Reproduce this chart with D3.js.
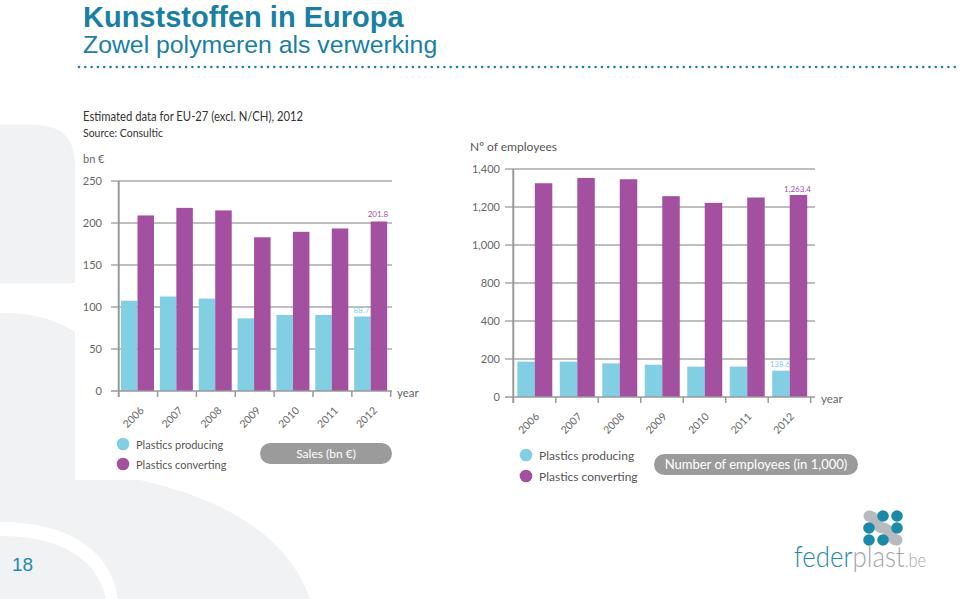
<!DOCTYPE html>
<html><head><meta charset="utf-8">
<script src="https://cdn.jsdelivr.net/npm/d3@7/dist/d3.min.js"></script>
<style>
html,body{margin:0;padding:0;background:#fff;}
svg{display:block;}
</style></head>
<body>
<svg id="c" width="960" height="599"></svg>
<script>
// ---------- data ----------
const years = ["2006","2007","2008","2009","2010","2011","2012"];
const seriesNames = ["Plastics producing","Plastics converting"];
const salesProducing  = [107.5, 112.5, 110, 86.5, 90.5, 90.5, 88.7];
const salesConverting = [209, 218, 215, 183, 189.5, 193.5, 201.8];
const empProducing    = [186, 186, 177, 170, 160, 160, 138.6];
const empConverting   = [1325, 1353, 1346, 1257, 1222, 1250, 1263.4];
const salesTicks = [0, 50, 100, 150, 200, 250];
const empTicks   = [0, 200, 400, 800, 1000, 1200, 1400];

const colors = {producing: "#82cfe3", converting: "#a2509f"};
const teal = "#1a80a3";
const FONT = "Lato, 'Open Sans', sans-serif";

const svg = d3.select("#c");

// ---------- background shapes ----------
const bg = svg.append("g").attr("fill", "#f1f2f4");
bg.append("path").attr("d", "M0,125 L35,125 Q75,125 75,165 L75,283 L0,283 Z");
bg.append("path").attr("d", "M0,313 Q45,312 75,332 L75,470 L0,470 Z");
bg.append("path").attr("d", "M0,470 L75,470 L75,480 L140,480 C230,500 290,540 310,599 L0,599 Z");
svg.append("path").attr("fill", "#fff")
  .attr("d", "M0,522 C70,522 112,552 118,599 L106,599 C98,560 62,536 0,536 Z");

// ---------- header ----------
svg.append("text").attr("x", 83).attr("y", 27)
  .attr("font-family", "'Liberation Sans', Arial, sans-serif").attr("font-weight", "bold")
  .attr("font-size", 29).attr("fill", teal).text("Kunststoffen in Europa");
svg.append("text").attr("x", 83).attr("y", 53)
  .attr("font-family", "'Liberation Sans', Arial, sans-serif")
  .attr("font-size", 24.8).attr("fill", teal).text("Zowel polymeren als verwerking");
svg.append("g").selectAll("circle").data(d3.range(79, 960, 6.3)).join("circle")
  .attr("cx", d => d).attr("cy", 67).attr("r", 1.3).attr("fill", teal);

svg.append("text").attr("x", 12).attr("y", 571)
  .attr("font-family", "'Liberation Sans', Arial, sans-serif")
  .attr("font-size", 19).attr("fill", "#1d8ab0").text("18");

// ---------- generic chart ----------
function drawChart(o) {
  const g = svg.append("g");
  const x = d3.scaleBand().domain(years).range(o.xRange).padding(0);
  const xi = d3.scaleBand().domain(["producing","converting"]).range(o.inner).padding(0);
  const y = o.y;

  // gridlines
  g.append("g").selectAll("line").data(o.ticks.filter(t => t !== 0)).join("line")
    .attr("x1", o.gridX1).attr("x2", o.gridX2)
    .attr("y1", d => y(d)).attr("y2", d => y(d))
    .attr("stroke", "#a9a9a9").attr("stroke-width", 1.5);

  // tick labels
  g.append("g").selectAll("text").data(o.ticks).join("text")
    .attr("x", o.labelX).attr("y", d => y(d) + 4)
    .attr("text-anchor", "end").attr("font-family", FONT)
    .attr("font-size", o.tickFont).attr("fill", "#666")
    .text(d => o.fmt(d));

  // bars
  const data = years.map((yr, i) => ({yr, producing: o.prod[i], converting: o.conv[i]}));
  const grp = g.append("g").selectAll("g").data(data).join("g")
    .attr("transform", d => `translate(${x(d.yr)},0)`);
  ["producing","converting"].forEach(k => {
    grp.append("rect")
      .attr("x", xi(k)).attr("width", xi.bandwidth())
      .attr("y", d => y(d[k])).attr("height", d => y(0) - y(d[k]))
      .attr("fill", colors[k]);
  });

  // axis baseline and y axis line
  g.append("line").attr("x1", o.gridX1).attr("x2", o.gridX2)
    .attr("y1", y(0)).attr("y2", y(0)).attr("stroke", "#999").attr("stroke-width", 1.6);
  g.append("line").attr("x1", o.xRange[0]).attr("x2", o.xRange[0])
    .attr("y1", y(o.ticks[o.ticks.length-1])).attr("y2", y(0) + 6)
    .attr("stroke", "#999").attr("stroke-width", 2);
  // band separators ticks
  g.append("g").selectAll("line").data(years.slice(1).map(v => x(v)).concat([o.xRange[1]])).join("line")
    .attr("x1", d => d).attr("x2", d => d).attr("y1", y(0)).attr("y2", y(0) + 6)
    .attr("stroke", "#999").attr("stroke-width", 1.5);

  // year labels
  g.append("g").selectAll("text").data(years).join("text")
    .attr("transform", d => `translate(${x(d) + x.bandwidth()/2 + o.yrDx},${y(0) + 26}) rotate(-45)`)
    .attr("text-anchor", "middle").attr("dominant-baseline", "central")
    .attr("font-family", FONT).attr("font-size", o.yrFont).attr("fill", "#666")
    .text(d => d);

  g.append("text").attr("x", o.yearX).attr("y", y(0) + 6)
    .attr("font-family", FONT).attr("font-size", o.yrFont + 1).attr("fill", "#666").text("year");

  // value labels on last bars
  const last = data[data.length - 1];
  g.append("text")
    .attr("x", x(last.yr) + xi("converting") + xi.bandwidth()/2 - 1)
    .attr("y", y(last.converting) - o.valOff[1])
    .attr("text-anchor", "middle").attr("font-family", FONT).attr("font-size", 8)
    .attr("fill", colors.converting).text(o.valFmt(last.converting));
  g.append("text")
    .attr("x", x(last.yr) + xi("producing") + xi.bandwidth()/2 - 1)
    .attr("y", y(last.producing) - o.valOff[0])
    .attr("text-anchor", "middle").attr("font-family", FONT).attr("font-size", 8)
    .attr("fill", colors.producing).text(o.valFmt(last.producing));

  // legend
  const lg = g.append("g");
  seriesNames.forEach((name, i) => {
    const k = i === 0 ? "producing" : "converting";
    lg.append("circle").attr("cx", o.legX).attr("cy", o.legY + i * o.legGap).attr("r", 6.3)
      .attr("fill", colors[k]);
    lg.append("text").attr("x", o.legX + 13).attr("y", o.legY + i * o.legGap + 4.5)
      .attr("font-family", FONT).attr("font-size", o.legFont).attr("fill", "#555").text(name);
  });
  // pill
  g.append("rect").attr("x", o.pill[0]).attr("y", o.pill[1]).attr("width", o.pill[2]).attr("height", o.pill[3])
    .attr("rx", o.pill[3]/2).attr("fill", "#9b9b9b");
  g.append("text").attr("x", o.pill[0] + o.pill[2]/2).attr("y", o.pill[1] + o.pill[3]/2 + 4.5)
    .attr("text-anchor", "middle").attr("font-family", FONT).attr("font-size", o.pillFont)
    .attr("fill", "#fff").text(o.pillText);
}

// ---------- left chart: sales ----------
svg.append("text").attr("x", 83).attr("y", 121).attr("font-family", FONT)
  .attr("font-size", 12.5).attr("fill", "#333")
  .attr("textLength", 220).attr("lengthAdjust", "spacingAndGlyphs")
  .text("Estimated data for EU-27 (excl. N/CH), 2012");
svg.append("text").attr("x", 83).attr("y", 137).attr("font-family", FONT)
  .attr("font-size", 10.5).attr("fill", "#333").text("Source: Consultic");
svg.append("text").attr("x", 83).attr("y", 163).attr("font-family", FONT)
  .attr("font-size", 11).attr("fill", "#666").text("bn €");

drawChart({
  xRange: [118.7, 390.7], inner: [2.3, 35.3],
  y: d3.scaleLinear().domain([0, 250]).range([391, 181]),
  ticks: salesTicks, fmt: d3.format("d"),
  prod: salesProducing, conv: salesConverting,
  gridX1: 111, gridX2: 392, labelX: 102, tickFont: 11,
  yrDx: -5, yrFont: 10.5, yearX: 397,
  valFmt: d3.format(".1f"), valOff: [3, 4],
  legX: 123, legY: 444, legGap: 20, legFont: 11,
  pill: [260, 443, 132, 21], pillText: "Sales (bn €)", pillFont: 12
});

// ---------- right chart: employees ----------
svg.append("text").attr("x", 470).attr("y", 151).attr("font-family", FONT)
  .attr("font-size", 12).attr("fill", "#555").text("Nº of employees");

drawChart({
  xRange: [513.3, 810.7], inner: [4, 39],
  // broken axis: 400 -> 800 compressed to one tick step
  y: d3.scaleLinear().domain([0, 400, 800, 1400]).range([397, 321, 283, 169]),
  ticks: empTicks, fmt: d3.format(","),
  prod: empProducing, conv: empConverting,
  gridX1: 505, gridX2: 815, labelX: 500, tickFont: 11,
  yrDx: -6, yrFont: 10.5, yearX: 821,
  valFmt: d3.format(",.1f"), valOff: [4, 3],
  legX: 526, legY: 455, legGap: 21, legFont: 12,
  pill: [654, 454, 204, 21], pillText: "Number of employees (in 1,000)", pillFont: 13
});

// ---------- logo ----------
const logo = svg.append("g");
logo.append("path").attr("d", "M869,516 C876,516 876,528 883,528 C890,528 890,540 897,540")
  .attr("fill", "none").attr("stroke", "#b7babe").attr("stroke-width", 11).attr("stroke-linecap", "round");
[[883,516],[897,516],[869,528],[897,528],[869,540],[883,540]].forEach(p => {
  logo.append("circle").attr("cx", p[0]).attr("cy", p[1]).attr("r", 5.8).attr("fill", "#1b8aa8");
});
const lt = logo.append("text").attr("transform", "translate(794,567) scale(0.86,1)")
  .attr("font-family", FONT).attr("font-weight", 300).attr("font-size", 30);
lt.append("tspan").attr("fill", "#1b8aa8").text("feder");
lt.append("tspan").attr("fill", "#a3a6aa").text("plast");
lt.append("tspan").attr("fill", "#a3a6aa").attr("font-size", 19).text(".be");
</script>
</body></html>
